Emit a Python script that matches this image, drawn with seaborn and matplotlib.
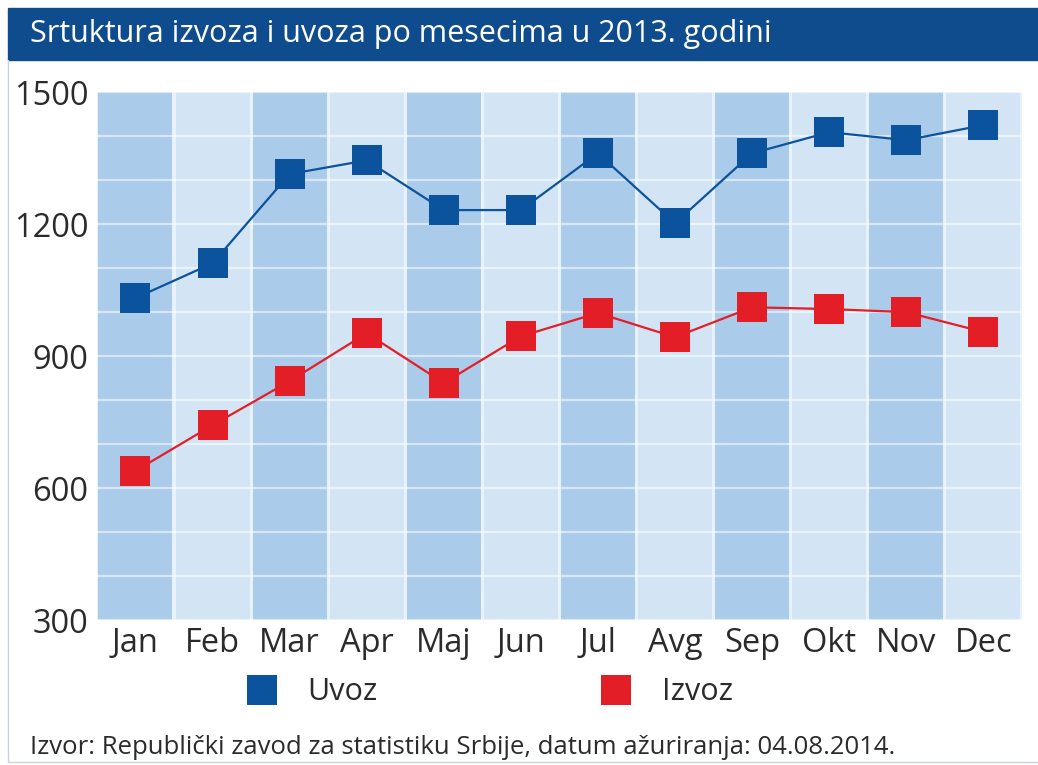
import pandas as pd
import matplotlib.pyplot as plt
import seaborn as sns
from matplotlib.patches import Rectangle
from matplotlib.lines import Line2D

# Podaci (procenjeno sa slike)
meseci = ['Jan', 'Feb', 'Mar', 'Apr', 'Maj', 'Jun', 'Jul', 'Avg', 'Sep', 'Okt', 'Nov', 'Dec']
uvoz = [1032, 1111, 1314, 1345, 1232, 1232, 1361, 1202, 1361, 1409, 1391, 1425]
izvoz = [639, 743, 843, 952, 839, 945, 998, 943, 1011, 1007, 1000, 955]
y_ticks = [300, 600, 900, 1200, 1500]

df = pd.DataFrame({
    'mesec': meseci * 2,
    'vrednost': uvoz + izvoz,
    'serija': ['Uvoz'] * len(meseci) + ['Izvoz'] * len(meseci),
})

sns.set_style("white")
plt.rcParams['font.family'] = ['Open Sans', 'DejaVu Sans']

boje = {'Uvoz': '#0b539c', 'Izvoz': '#e41e26'}

fig = plt.figure(figsize=(10.38, 7.65), dpi=100)
ax = fig.add_axes([0.0934, 0.1895, 0.891, 0.690])
ax.set_facecolor('#e8f2fb')

# naizmenicne kolone u pozadini
for i in range(len(meseci)):
    boja = '#aacbea' if i % 2 == 0 else '#d3e5f5'
    ax.axvspan(i - 0.5 + 0.02, i + 0.5 - 0.02, color=boja, zorder=0, lw=0)

# horizontalne linije mreze
for y in range(300, 1501, 100):
    ax.axhline(y, color='white', lw=1.6, alpha=0.55, zorder=1)

sns.lineplot(data=df, x='mesec', y='vrednost', hue='serija', palette=boje,
             marker='s', markersize=21, markeredgewidth=0, linewidth=1.6,
             sort=False, legend=False, ax=ax, zorder=3)

ax.set_xlim(-0.5, len(meseci) - 0.5)
ax.set_ylim(300, 1500)
ax.set_yticks(y_ticks)
ax.set_xticks(range(len(meseci)))
ax.set_xticklabels(meseci)
ax.set_xlabel('')
ax.set_ylabel('')
ax.tick_params(axis='both', length=0, labelsize=23.5, colors='#2b2b2b')
ax.tick_params(axis='y', pad=6)
ax.tick_params(axis='x', pad=5)
sns.despine(ax=ax, left=True, bottom=True)

# legenda
handles = [Line2D([], [], ls='none', marker='s', markersize=21, markeredgewidth=0, color=boje[s])
           for s in ['Uvoz', 'Izvoz']]
fig.legend(handles, ['Uvoz', 'Izvoz'], ncol=2, frameon=False, fontsize=22,
           loc='center left', bbox_to_anchor=(0.196, 0.095), columnspacing=6.8,
           handletextpad=0.5, labelcolor='#2b2b2b')

# naslovna traka
fig.patches.append(Rectangle((8 / 1038, 1 - 60 / 765), 1, 52 / 765, transform=fig.transFigure,
                             color='#0f4c8e', zorder=0))
fig.text(30 / 1038, 1 - 34 / 765, 'Srtuktura izvoza i uvoza po mesecima u 2013. godini',
         color='white', fontsize=22, va='center', ha='left')

# okvir
fig.add_artist(Line2D([8 / 1038, 8 / 1038], [0.004, 1 - 60 / 765], transform=fig.transFigure,
                      color='#c8d3df', lw=1))
fig.add_artist(Line2D([8 / 1038, 1], [0.004, 0.004], transform=fig.transFigure,
                      color='#c8d3df', lw=1))

fig.text(30 / 1038, 1 - 748 / 765, 'Izvor: Republički zavod za statistiku Srbije, datum ažuriranja: 04.08.2014.',
         color='#2b2b2b', fontsize=18.5, va='center', ha='left')

plt.savefig('out.png', dpi=100)
